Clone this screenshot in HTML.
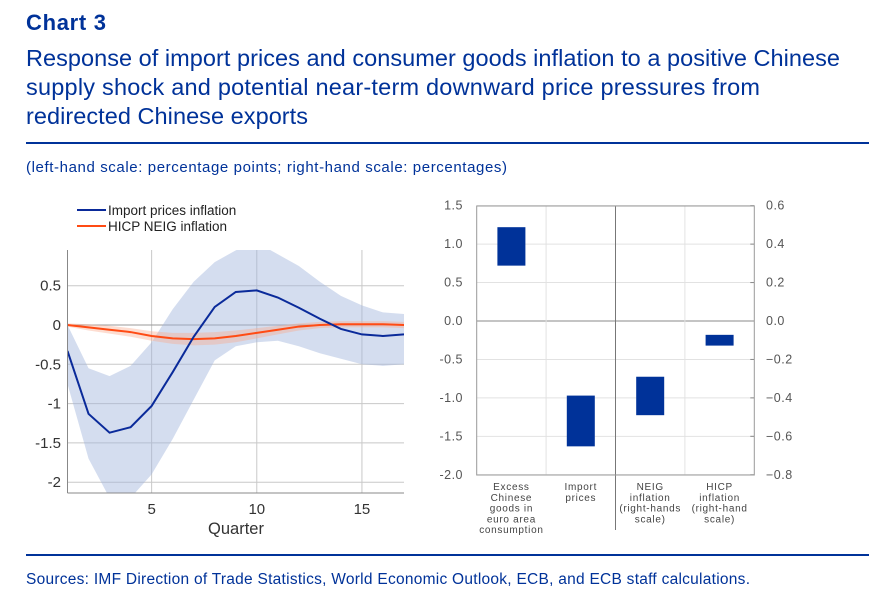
<!DOCTYPE html>
<html><head><meta charset="utf-8"><style>
html,body{margin:0;padding:0;background:#fff;}
svg{display:block;font-family:"Liberation Sans",Arial,sans-serif;}
</style></head><body>
<svg id="root" width="885" height="591" viewBox="0 0 885 591">
<text x="26" y="30" font-size="22" font-weight="bold" fill="#003299" textLength="80">Chart 3</text>
<g fill="#003299" font-size="23.5">
<text x="26" y="66" textLength="814">Response of import prices and consumer goods inflation to a positive Chinese</text>
<text x="26" y="95" textLength="734">supply shock and potential near-term downward price pressures from</text>
<text x="26" y="124" textLength="282">redirected Chinese exports</text>
</g>
<rect x="26" y="142" width="843" height="2" fill="#003299"/>
<text x="26" y="172" font-size="15" fill="#003299" textLength="481">(left-hand scale: percentage points; right-hand scale: percentages)</text>
<rect x="26" y="554" width="843" height="2" fill="#003299"/>
<text x="26" y="584" font-size="15.5" fill="#003299" textLength="724">Sources: IMF Direction of Trade Statistics, World Economic Outlook, ECB, and ECB staff calculations.</text>
<g id="left"></g>
<g id="right"></g>
</svg>
<script>
const quarters=[1,2,3,4,5,6,7,8,9,10,11,12,13,14,15,16,17];
const importLine=[-0.33,-1.13,-1.37,-1.30,-1.03,-0.60,-0.15,0.23,0.42,0.44,0.35,0.22,0.08,-0.05,-0.12,-0.14,-0.12];
const importUpper=[0,-0.55,-0.65,-0.52,-0.22,0.2,0.55,0.8,0.95,1.05,0.9,0.75,0.55,0.37,0.25,0.16,0.14];
const importLower=[-0.75,-1.7,-2.2,-2.2,-1.9,-1.45,-0.95,-0.45,-0.27,-0.22,-0.2,-0.27,-0.36,-0.43,-0.5,-0.52,-0.5];
const hicpLine=[0,-0.03,-0.06,-0.09,-0.14,-0.17,-0.18,-0.17,-0.14,-0.1,-0.06,-0.02,0,0.01,0.01,0.01,0];
const hicpUpper=[0.02,0.01,-0.01,-0.04,-0.08,-0.1,-0.1,-0.09,-0.07,-0.04,-0.01,0.02,0.04,0.05,0.05,0.05,0.04];
const hicpLower=[-0.02,-0.07,-0.11,-0.15,-0.2,-0.24,-0.26,-0.25,-0.22,-0.17,-0.12,-0.07,-0.04,-0.03,-0.03,-0.03,-0.04];
const leftYTicks=[0.5,0,-0.5,-1,-1.5,-2];
const leftYLabels=["0.5","0","-0.5","-1","-1.5","-2"];
const leftXTicks=[5,10,15];

const barCats=["Excess|Chinese|goods in|euro area|consumption","Import|prices","NEIG|inflation|(right-hands|scale)","HICP|inflation|(right-hand|scale)"];
const barLow=[0.72,-1.63,-0.49,-0.128];
const barHigh=[1.22,-0.97,-0.29,-0.072];
const barAxis=["left","left","right","right"];
const rightLTicks=[1.5,1.0,0.5,0.0,-0.5,-1.0,-1.5,-2.0];
const rightLLabels=["1.5","1.0","0.5","0.0","-0.5","-1.0","-1.5","-2.0"];
const rightRTicks=[0.6,0.4,0.2,0.0,-0.2,-0.4,-0.6,-0.8];
const rightRLabels=["0.6","0.4","0.2","0.0","\u22120.2","\u22120.4","\u22120.6","\u22120.8"];

const NS="http://www.w3.org/2000/svg";
function mk(p,t,a){const e=document.createElementNS(NS,t);for(const k in a)e.setAttribute(k,a[k]);p.appendChild(e);return e;}

const L=document.getElementById('left');
const lx0=67.5,lx1=404,lyT=250,lyB=493;
const lxs=q=>lx0+(q-1)*(lx1-lx0)/16;
const lys=v=>325-v*78.6;
const clipDef=mk(L,'clipPath',{id:'lclip'});
mk(clipDef,'rect',{x:lx0,y:lyT,width:lx1-lx0,height:lyB-lyT});
for(const q of leftXTicks){
 const g=mk(L,'line',{x1:lxs(q),x2:lxs(q),y1:lyT,y2:lyB,stroke:'#c8c8c8','stroke-width':1});
 
 
 const t=mk(L,'text',{x:lxs(q),y:514,'font-size':15,fill:'#333','text-anchor':'middle'});t.textContent=q;
 
 
}
leftYTicks.forEach((v,i)=>{
 const g=mk(L,'line',{x1:lx0,x2:lx1,y1:lys(v),y2:lys(v),stroke:v===0?'#999':'#c8c8c8','stroke-width':1});
 
 
 const t=mk(L,'text',{x:61,y:lys(v)+5,'font-size':15,fill:'#333','text-anchor':'end'});t.textContent=leftYLabels[i];
 
 
});
function band(up,lo,fill,name){
 let d='M'+quarters.map((q,i)=>lxs(q)+','+lys(up[i])).join('L');
 d+='L'+quarters.slice().reverse().map((q,j)=>{const i=quarters.length-1-j;return lxs(q)+','+lys(lo[i]);}).join('L')+'Z';
 const p=mk(L,'path',{d:d,fill:fill,'clip-path':'url(#lclip)'});
 
 
}
function line(vals,col,name){
 const p=mk(L,'polyline',{points:quarters.map((q,i)=>lxs(q)+','+lys(vals[i])).join(' '),fill:'none',stroke:col,'stroke-width':2,'clip-path':'url(#lclip)'});
 
 
}
band(importUpper,importLower,'rgba(160,180,220,0.45)','import-prices-band');
band(hicpUpper,hicpLower,'rgba(250,170,140,0.4)','hicp-neig-band');
line(hicpLine,'#ff4b14','hicp-neig-line');
line(importLine,'#0a2a9a','import-prices-line');
mk(L,'line',{x1:lx0,x2:lx0,y1:lyT,y2:lyB,stroke:'#888'});
mk(L,'line',{x1:lx0,x2:lx1,y1:lyB,y2:lyB,stroke:'#888'});
const xt=mk(L,'text',{x:236,y:534,'font-size':16.5,fill:'#333','text-anchor':'middle'});xt.textContent='Quarter';


[['#0a2a9a','Import prices inflation',210],['#ff4b14','HICP NEIG inflation',226]].forEach(([c,s,y])=>{
 const g=mk(L,'g',{});
 
 
 mk(g,'line',{x1:77,x2:106,y1:y,y2:y,stroke:c,'stroke-width':2});
 const t=mk(g,'text',{x:108,y:y+5,'font-size':13.5,fill:'#222'});t.textContent=s;
});

const R=document.getElementById('right');
const rx0=476.7,rx1=754.3;
const rys=v=>321-v*76.9;
const rrs=v=>321-v*192.2;
const catW=(rx1-rx0)/4;
rightLTicks.forEach((v,i)=>{
 const g=mk(R,'line',{x1:rx0,x2:rx1,y1:rys(v),y2:rys(v),stroke:v===0?'#888':'#e2e2e2'});
 
 
 const t=mk(R,'text',{x:463,y:rys(v)+4,'font-size':12.5,fill:'#555','text-anchor':'end','letter-spacing':'0.5'});t.textContent=rightLLabels[i];
 
 
});
rightRTicks.forEach((v,i)=>{
 mk(R,'line',{x1:rx1-4,x2:rx1,y1:rrs(v),y2:rrs(v),stroke:'#888'});
 const t=mk(R,'text',{x:766,y:rrs(v)+4,'font-size':12.5,fill:'#555','letter-spacing':'0.5'});t.textContent=rightRLabels[i];
 
 
});
for(let k=1;k<4;k++){
 const x=rx0+k*catW;
 mk(R,'line',{x1:x,x2:x,y1:206,y2:k===2?530:475,stroke:k===2?'#777':'#e2e2e2'});
}
mk(R,'rect',{x:rx0,y:206,width:rx1-rx0,height:269,fill:'none',stroke:'#999'});
barCats.forEach((c,i)=>{
 const cx=rx0+(i+0.5)*catW;
 const sc=barAxis[i]==='left'?rys:rrs;
 const r=mk(R,'rect',{x:cx-14,y:sc(barHigh[i]),width:28,height:sc(barLow[i])-sc(barHigh[i]),fill:'#003299'});
 
 
 c.split('|').forEach((s,j)=>{
  const t=mk(R,'text',{x:cx,y:490+j*10.8,'font-size':10,fill:'#444','text-anchor':'middle','letter-spacing':'0.7'});t.textContent=s;
  
  
 });
});
</script>
</body></html>
